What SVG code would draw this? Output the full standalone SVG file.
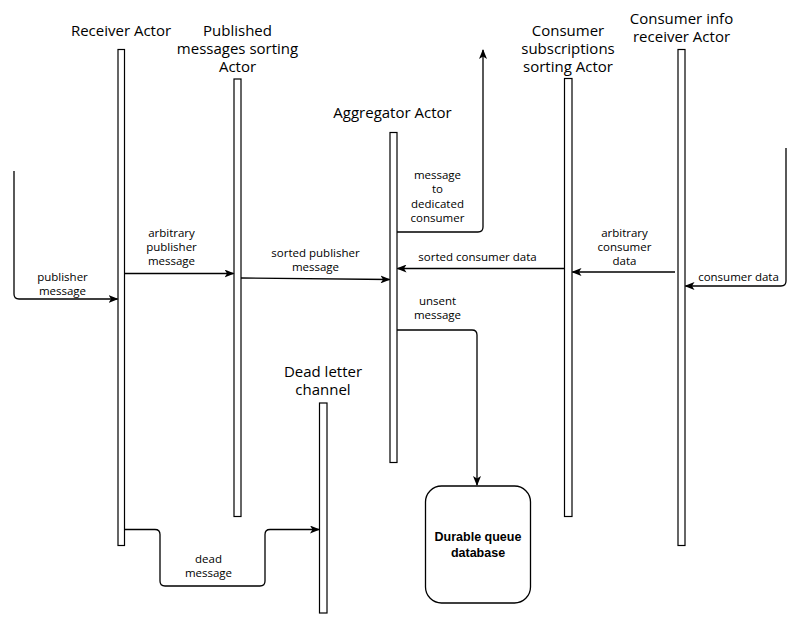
<svg xmlns="http://www.w3.org/2000/svg" width="804" height="624" viewBox="0 0 804 624">
<style>
.ll{fill:#fff;stroke:#000;stroke-width:1.2}
.title{font-family:"Open Sans","DejaVu Sans",sans-serif;font-size:15px;fill:#000;text-anchor:middle}
.lbl{font-family:"Open Sans","DejaVu Sans",sans-serif;font-size:11.5px;fill:#000;text-anchor:middle}
.edge{fill:none;stroke:#000;stroke-width:1.3;marker-end:url(#arr)}
.db{fill:#fff;stroke:#000;stroke-width:1.3}
.dbt{font-family:"Liberation Sans",Arial,sans-serif;font-size:12.5px;font-weight:bold;fill:#000;text-anchor:middle}
</style>
<defs>
<marker id="arr" markerUnits="userSpaceOnUse" markerWidth="10" markerHeight="8" refX="9" refY="4" orient="auto">
<path d="M0,0 L10,4 L0,8 L2.5,4 z" fill="#000"/>
</marker>
</defs>
<rect width="804" height="624" fill="#fff"/>
<g id="receiver">
<rect class="ll" x="118" y="49.5" width="6.5" height="496"/>
<text class="title" x="121" y="36">Receiver Actor</text>
</g>
<g id="pubsort">
<rect class="ll" x="234" y="79" width="7" height="437.5"/>
<text class="title" x="237.5" y="36">Published</text>
<text class="title" x="237.5" y="54">messages sorting</text>
<text class="title" x="237.5" y="72">Actor</text>
</g>
<g id="aggregator">
<rect class="ll" x="390" y="132.5" width="7" height="330"/>
<text class="title" x="392.5" y="118">Aggregator Actor</text>
</g>
<g id="consort">
<rect class="ll" x="564.5" y="78.5" width="7.5" height="438"/>
<text class="title" x="568" y="36">Consumer</text>
<text class="title" x="568" y="54">subscriptions</text>
<text class="title" x="568" y="72">sorting Actor</text>
</g>
<g id="coninfo">
<rect class="ll" x="678" y="49.5" width="7" height="496"/>
<text class="title" x="681.5" y="23.5">Consumer info</text>
<text class="title" x="681.5" y="41.5">receiver Actor</text>
</g>
<g id="deadletter">
<rect class="ll" x="319.5" y="403" width="7.5" height="210"/>
<text class="title" x="323" y="377">Dead letter</text>
<text class="title" x="323" y="395">channel</text>
</g>
<g id="durable">
<rect class="db" x="425.5" y="486" width="105" height="117" rx="16" ry="16"/>
<text class="dbt" x="478" y="541">Durable queue</text>
<text class="dbt" x="478" y="557">database</text>
</g>
<g id="connectors">
<path class="edge" d="M14,171 V294 Q14,299 19,299 H117.5"/>
<path class="edge" d="M124.5,273.5 H233.5"/>
<path class="edge" d="M241,278 L389.5,279.5"/>
<path class="edge" d="M397,232 H478 Q483,232 483,227 V50"/>
<path class="edge" d="M564.5,268.5 H397.5"/>
<path class="edge" d="M675,272 H572.5"/>
<path class="edge" d="M786,148 V281 Q786,286 781,286 H685.5"/>
<path class="edge" d="M397,330 H472 Q477,330 477,335 V485"/>
<path class="edge" d="M124.5,529.5 H155 Q160,529.5 160,534.5 V581 Q160,586 165,586 H260 Q265,586 265,581 V534.5 Q265,529.5 270,529.5 H319"/>
<text class="lbl" x="62.5" y="281">publisher</text>
<text class="lbl" x="62.5" y="295">message</text>
<text class="lbl" x="171.5" y="236.5">arbitrary</text>
<text class="lbl" x="171.5" y="250.5">publisher</text>
<text class="lbl" x="171.5" y="264.5">message</text>
<text class="lbl" x="315.5" y="257">sorted publisher</text>
<text class="lbl" x="315.5" y="271">message</text>
<text class="lbl" x="437.5" y="178.5">message</text>
<text class="lbl" x="437.5" y="193">to</text>
<text class="lbl" x="437.5" y="207.5">dedicated</text>
<text class="lbl" x="437.5" y="222">consumer</text>
<text class="lbl" x="477.5" y="260.5">sorted consumer data</text>
<text class="lbl" x="624.5" y="236.5">arbitrary</text>
<text class="lbl" x="624.5" y="250.5">consumer</text>
<text class="lbl" x="624.5" y="264.5">data</text>
<text class="lbl" x="738.5" y="281">consumer data</text>
<text class="lbl" x="437.5" y="304.5">unsent</text>
<text class="lbl" x="437.5" y="319">message</text>
<text class="lbl" x="208.5" y="562.5">dead</text>
<text class="lbl" x="208.5" y="577">message</text>
</g>
</svg>
